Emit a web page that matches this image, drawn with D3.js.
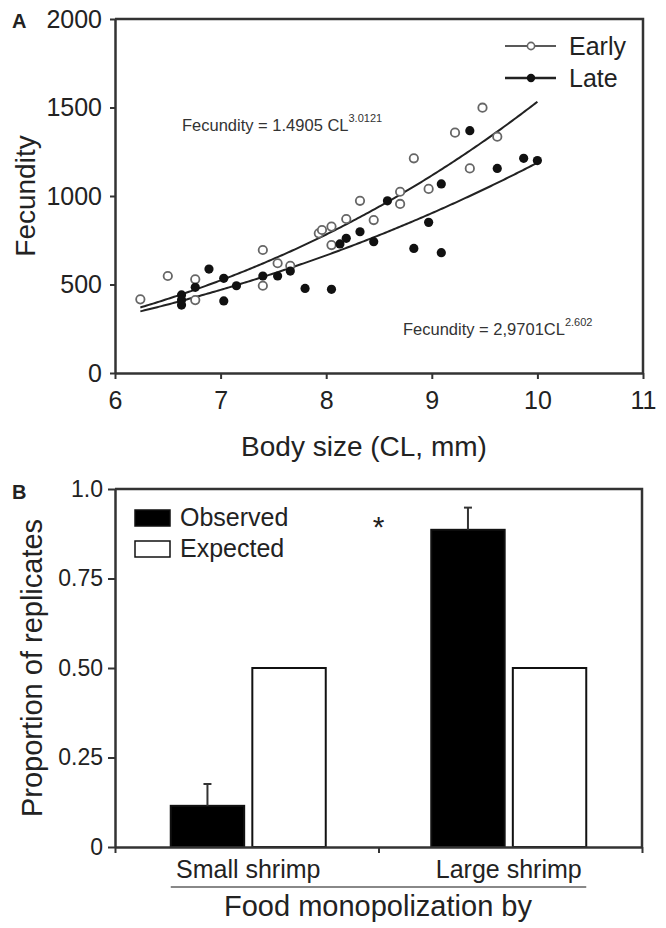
<!DOCTYPE html>
<html>
<head>
<meta charset="utf-8">
<script src="https://cdn.jsdelivr.net/npm/d3@7"></script>
<style>
  body { margin: 0; background: #fff; }
  svg { font-family: "Liberation Sans", Arial, sans-serif; }
</style>
</head>
<body>
<svg id="fig" width="666" height="928"></svg>
<script>
// ---- panel A data ----
var earlyCL = [6.24, 6.50, 6.76, 6.76, 7.40, 7.40, 7.54, 7.66, 7.93, 7.96, 8.05, 8.05,
               8.19, 8.32, 8.45, 8.70, 8.70, 8.83, 8.97, 9.22, 9.36, 9.48, 9.62]
var earlyF  = [416, 548, 529, 412, 695, 493, 620, 606, 789, 808, 827, 723,
               870, 973, 864, 1024, 955, 1213, 1040, 1358, 1156, 1499, 1335]
var lateCL  = [6.63, 6.63, 6.63, 6.76, 6.89, 7.03, 7.03, 7.15, 7.40, 7.54, 7.66, 7.80, 8.05,
               8.13, 8.19, 8.32, 8.45, 8.58, 8.83, 8.97, 9.09, 9.09, 9.36, 9.62, 9.87, 10.00]
var lateF   = [441, 412, 384, 484, 587, 535, 407, 493, 548, 548, 576, 478, 473,
               729, 761, 798, 742, 973, 704, 851, 1068, 680, 1369, 1156, 1213, 1200]
// fitted power curves  F = a * CL^b  (coefficients printed on the figure)
var earlyFit = [1.4905, 3.0121]
var lateFit  = [2.9701, 2.602]
var fitRange = [6.24, 10.0]
var xTicksA = [6, 7, 8, 9, 10, 11]
var yTicksA = [0, 500, 1000, 1500, 2000]

// ---- panel B data ----
var groups   = ["Small shrimp", "Large shrimp"]
var series   = ["Observed", "Expected"]
var observed = [0.115, 0.886]
var obsErr   = [0.061, 0.062]
var expected = [0.5, 0.5]
var yTicksB  = [0, 0.25, 0.5, 0.75, 1.0]

const svg = d3.select("#fig")
const ink = "#222"

// =============== Panel A ===============
const xA = d3.scaleLinear().domain([6, 11]).range([115, 643])
const yA = d3.scaleLinear().domain([0, 2000]).range([373, 19])

const gA = svg.append("g")

function styleAxis(sel, fs) {
  sel.select(".domain").attr("stroke", "#333").attr("stroke-width", 2.5)
  sel.selectAll(".tick line").attr("stroke", "#333").attr("stroke-width", 2)
  sel.selectAll(".tick text").attr("fill", ink).style("font-size", fs + "px")
}

gA.append("g")
  .attr("transform", "translate(0,373)")
  .call(d3.axisBottom(xA).tickValues(xTicksA).tickSize(6).tickSizeOuter(0).tickPadding(12)
    .tickFormat(d3.format("d")))
  .call(s => styleAxis(s, 25))

gA.append("g")
  .attr("transform", "translate(115,0)")
  .call(d3.axisLeft(yA).tickValues(yTicksA).tickSize(5).tickSizeOuter(0).tickPadding(8)
    .tickFormat(d3.format("d")))
  .call(s => styleAxis(s, 25))

// frame top + right
gA.append("path")
  .attr("d", `M${xA(6)},${yA(2000)}H${xA(11)}V${yA(0)}`)
  .attr("fill", "none").attr("stroke", "#333").attr("stroke-width", 2.5)

// fitted curves
const line = d3.line().x(d => xA(d[0])).y(d => yA(d[1]))
function fitPts(p) {
  return d3.range(fitRange[0], fitRange[1] + 0.001, 0.02).map(c => [c, p[0] * Math.pow(c, p[1])])
}
gA.append("path").datum(fitPts(earlyFit)).attr("d", line)
  .attr("fill", "none").attr("stroke", ink).attr("stroke-width", 2)
gA.append("path").datum(fitPts(lateFit)).attr("d", line)
  .attr("fill", "none").attr("stroke", ink).attr("stroke-width", 2)

// points
gA.selectAll("circle.early")
  .data(earlyCL.map((c, i) => [c, earlyF[i]]))
  .enter().append("circle").attr("class", "early")
  .attr("cx", d => xA(d[0])).attr("cy", d => yA(d[1])).attr("r", 4.2)
  .attr("fill", "#fff").attr("stroke", "#666").attr("stroke-width", 1.8)

gA.selectAll("circle.late")
  .data(lateCL.map((c, i) => [c, lateF[i]]))
  .enter().append("circle").attr("class", "late")
  .attr("cx", d => xA(d[0])).attr("cy", d => yA(d[1])).attr("r", 4.6)
  .attr("fill", "#111")

// legend A
const legA = gA.append("g")
;[["Early", 46, "open"], ["Late", 78, "fill"]].forEach(([lab, y, kind]) => {
  legA.append("line").attr("x1", 505).attr("x2", 556).attr("y1", y).attr("y2", y)
    .attr("stroke", ink).attr("stroke-width", kind === "open" ? 1.6 : 2.4)
  legA.append("circle").attr("cx", 531).attr("cy", y).attr("r", kind === "open" ? 3.6 : 4.2)
    .attr("fill", kind === "open" ? "#fff" : "#111")
    .attr("stroke", kind === "open" ? "#666" : "none").attr("stroke-width", 1.6)
  legA.append("text").attr("x", 569).attr("y", y + 9).text(lab)
    .style("font-size", "25px").attr("fill", ink)
})

// equations
const eq1 = gA.append("text").attr("x", 182).attr("y", 131)
  .style("font-size", "16.5px").attr("fill", "#333")
eq1.append("tspan").text("Fecundity = 1.4905 CL")
eq1.append("tspan").attr("dy", -9).style("font-size", "11px").text("3.0121")

const eq2 = gA.append("text").attr("x", 403).attr("y", 335)
  .style("font-size", "16.5px").attr("fill", "#333")
eq2.append("tspan").text("Fecundity = 2,9701CL")
eq2.append("tspan").attr("dy", -9).style("font-size", "11px").text("2.602")

// axis titles A
gA.append("text").attr("x", 364).attr("y", 456).attr("text-anchor", "middle")
  .style("font-size", "28px").attr("fill", ink).text("Body size (CL, mm)")
gA.append("text").attr("transform", "translate(35,196) rotate(-90)").attr("text-anchor", "middle")
  .style("font-size", "28px").attr("fill", ink).text("Fecundity")
gA.append("text").attr("x", 12).attr("y", 28).style("font-size", "20px")
  .style("font-weight", "bold").attr("fill", ink).text("A")

// =============== Panel B ===============
const yB = d3.scaleLinear().domain([0, 1]).range([847, 489])
const x0 = d3.scaleBand().domain(groups).range([115, 642]).paddingInner(0.405).paddingOuter(0.214)
const x1 = d3.scaleBand().domain(series).range([0, x0.bandwidth()]).paddingInner(0.1)
const xEdge = d3.scaleLinear().domain([0, 2]).range([115, 642])

const gB = svg.append("g")

const bars = gB.selectAll("g.grp")
  .data(groups.map((g, i) => ({ g, vals: [observed[i], expected[i]], err: obsErr[i] })))
  .enter().append("g").attr("class", "grp")
  .attr("transform", d => `translate(${x0(d.g)},0)`)

bars.selectAll("rect")
  .data(d => d.vals.map((v, j) => ({ key: series[j], v })))
  .enter().append("rect")
  .attr("x", d => x1(d.key)).attr("width", x1.bandwidth())
  .attr("y", d => yB(d.v)).attr("height", d => yB(0) - yB(d.v))
  .attr("fill", d => d.key === "Observed" ? "#000" : "#fff")
  .attr("stroke", "#111").attr("stroke-width", 2)

// upper error bars on observed
bars.each(function (d) {
  const cx = x1("Observed") + x1.bandwidth() / 2
  const g = d3.select(this)
  g.append("line").attr("x1", cx).attr("x2", cx)
    .attr("y1", yB(d.vals[0])).attr("y2", yB(d.vals[0] + d.err))
    .attr("stroke", "#333").attr("stroke-width", 2)
  g.append("line").attr("x1", cx - 4).attr("x2", cx + 4)
    .attr("y1", yB(d.vals[0] + d.err)).attr("y2", yB(d.vals[0] + d.err))
    .attr("stroke", "#333").attr("stroke-width", 2)
})

gB.append("g")
  .attr("transform", "translate(115,0)")
  .call(d3.axisLeft(yB).tickValues(yTicksB).tickSize(7).tickSizeOuter(0).tickPadding(5)
    .tickFormat(d => d === 0 ? "0" : d === 1 ? "1.0" : d3.format(".2f")(d)))
  .call(s => styleAxis(s, 23))

gB.append("g")
  .attr("transform", "translate(0,847)")
  .call(d3.axisBottom(xEdge).tickValues([0, 1, 2]).tickSize(6).tickSizeOuter(0).tickFormat(""))
  .call(s => styleAxis(s, 23))

gB.append("path")
  .attr("d", `M115,${yB(1)}H642V${yB(0)}`)
  .attr("fill", "none").attr("stroke", "#333").attr("stroke-width", 2.5)

// category labels + group line
gB.selectAll("text.cat").data(groups).enter().append("text").attr("class", "cat")
  .attr("x", d => x0(d) + x0.bandwidth() / 2).attr("y", 878).attr("text-anchor", "middle")
  .style("font-size", "25px").attr("fill", ink).text(d => d)
gB.append("line")
  .attr("x1", x0(groups[0])).attr("x2", x0(groups[1]) + x0.bandwidth())
  .attr("y1", 887).attr("y2", 887).attr("stroke", "#888").attr("stroke-width", 2)

gB.append("text").attr("x", 378).attr("y", 916).attr("text-anchor", "middle")
  .style("font-size", "29px").attr("fill", ink).text("Food monopolization by")
gB.append("text").attr("transform", "translate(42,668) rotate(-90)").attr("text-anchor", "middle")
  .style("font-size", "29px").attr("fill", ink).text("Proportion of replicates")
gB.append("text").attr("x", 12).attr("y", 499).style("font-size", "20px")
  .style("font-weight", "bold").attr("fill", ink).text("B")

// significance star
gB.append("text").attr("x", xEdge(1)).attr("y", 537).attr("text-anchor", "middle")
  .style("font-size", "30px").attr("fill", ink).text("*")

// legend B
series.forEach((s, i) => {
  const y = 510 + i * 31
  gB.append("rect").attr("x", 135).attr("y", y).attr("width", 35).attr("height", 16)
    .attr("fill", s === "Observed" ? "#000" : "#fff").attr("stroke", "#111").attr("stroke-width", 1.5)
  gB.append("text").attr("x", 180).attr("y", y + 16).style("font-size", "25px")
    .attr("fill", ink).text(s)
})
</script>
</body>
</html>
